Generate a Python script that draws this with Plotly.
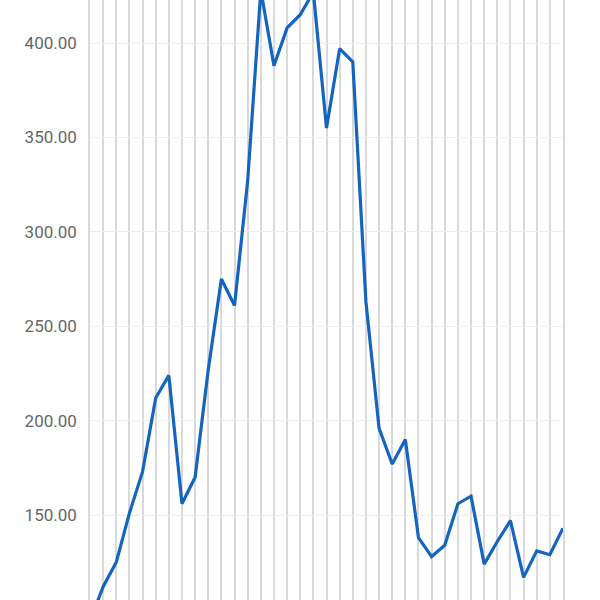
import plotly.graph_objects as go

index = list(range(37))
values = [94, 112, 125, 151, 173, 212, 224, 156, 170, 227, 275, 261, 327, 428,
          388, 408, 415, 427, 355, 397, 390, 263, 196, 177, 190, 138, 128, 134,
          156, 160, 124, 136, 147, 117, 131, 129, 143]
y_ticks = [150, 200, 250, 300, 350, 400]

fig = go.Figure(go.Scatter(
    x=index, y=values, mode="lines",
    line=dict(color="#1565C0", width=3.2),
    hoverinfo="skip",
))

fig.update_layout(
    width=600, height=600,
    margin=dict(l=90, r=37, t=0, b=0),
    paper_bgcolor="white", plot_bgcolor="white",
    showlegend=False,
    font=dict(family="Roboto, Arial, sans-serif", size=17, color="#666666"),
)
fig.update_xaxes(
    range=[0, 36], tickmode="linear", tick0=0, dtick=1,
    showticklabels=False, showgrid=True, gridcolor="#d9d9d9", gridwidth=1.5,
    zeroline=False, showline=False, ticks="",
)
fig.update_yaxes(
    range=[105, 422.8], tickmode="array", tickvals=y_ticks,
    tickformat=".2f", showgrid=True, gridcolor="#eeeeee", gridwidth=1,
    zeroline=False, showline=True, linecolor="#d9d9d9", linewidth=1.5,
    mirror=True, ticks="", ticklabelstandoff=8,
)

fig.write_html(
    "out.html",
    config={"displayModeBar": False},
    post_script="document.body.style.margin='0';document.body.style.overflow='hidden';",
)
